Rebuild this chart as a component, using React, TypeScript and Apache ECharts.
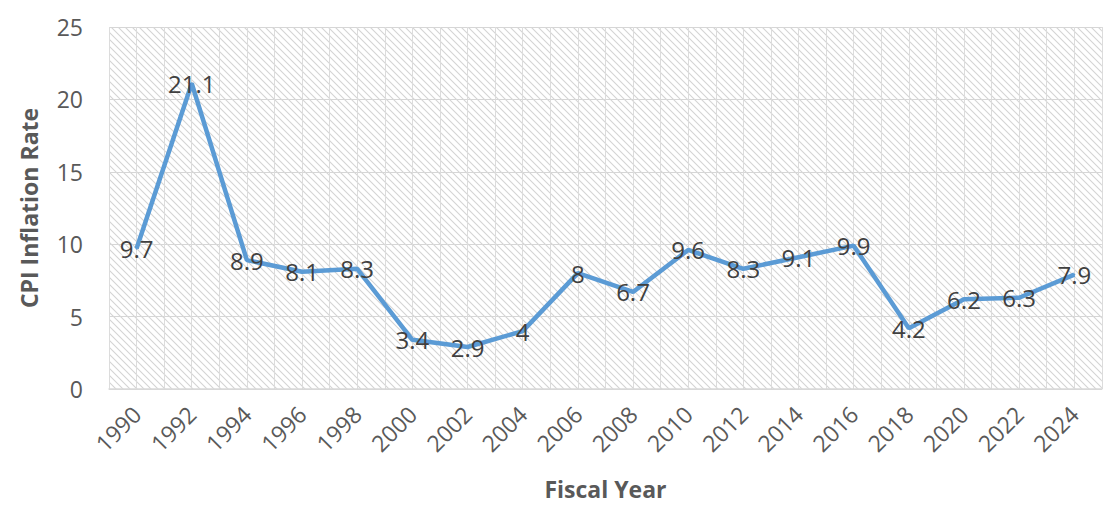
import React, { useEffect, useRef } from "react";
import * as echarts from "echarts";

const years = [1990, 1992, 1994, 1996, 1998, 2000, 2002, 2004, 2006, 2008, 2010, 2012, 2014, 2016, 2018, 2020, 2022, 2024];
const inflation = [9.7, 21.1, 8.9, 8.1, 8.3, 3.4, 2.9, 4, 8, 6.7, 9.6, 8.3, 9.1, 9.9, 4.2, 6.2, 6.3, 7.9];
const yTicks = [0, 5, 10, 15, 20, 25];

function makeHatch(): string {
  const c = document.createElement("canvas");
  const s = 7;
  c.width = s;
  c.height = s;
  const ctx = c.getContext("2d")!;
  ctx.fillStyle = "#ffffff";
  ctx.fillRect(0, 0, s, s);
  ctx.strokeStyle = "#d4d4d4";
  ctx.lineWidth = 1.1;
  ctx.beginPath();
  ctx.moveTo(-1, -1);
  ctx.lineTo(s + 1, s + 1);
  ctx.moveTo(-1, s - 1);
  ctx.lineTo(1, s + 1);
  ctx.moveTo(s - 1, -1);
  ctx.lineTo(s + 1, 1);
  ctx.stroke();
  return c.toDataURL("image/png");
}

export default function App() {
  const ref = useRef<HTMLDivElement>(null);
  useEffect(() => {
    document.body.style.margin = "0";
    const chart = echarts.init(ref.current!, undefined, { renderer: "svg" });
    const font = "'Open Sans', 'Noto Sans', sans-serif";
    chart.setOption({
      animation: false,
      textStyle: { fontFamily: font },
      grid: {
        left: 109,
        top: 27,
        width: 999,
        height: 365,
        show: true,
        borderWidth: 0,
        backgroundColor: { image: makeHatch(), repeat: "repeat" },
      },
      xAxis: {
        type: "value",
        min: 1989,
        max: 2025,
        interval: 1,
        name: "Fiscal Year",
        nameLocation: "middle",
        nameGap: 88,
        nameTextStyle: { fontSize: 23, fontWeight: "bold", color: "#595959", fontFamily: font },
        axisLine: { show: true, lineStyle: { color: "#d9d9d9", width: 1.5 } },
        axisTick: { show: false },
        splitLine: { show: true, lineStyle: { color: "#dcdcdc", width: 1 } },
        axisLabel: {
          rotate: 45,
          margin: 21,
          fontSize: 23,
          color: "#595959",
          fontFamily: font,
          hideOverlap: false,
          formatter: (v: number) => (years.includes(v) ? String(v) : ""),
        },
      },
      yAxis: {
        type: "value",
        min: yTicks[0],
        max: yTicks[yTicks.length - 1],
        interval: 5,
        name: "CPI Inflation Rate",
        nameLocation: "middle",
        nameGap: 69,
        nameTextStyle: { fontSize: 23, fontWeight: "bold", color: "#595959", fontFamily: font },
        axisLine: { show: false },
        axisTick: { show: false },
        splitLine: { show: true, lineStyle: { color: "#d6d6d6", width: 1 } },
        axisLabel: { margin: 26, fontSize: 23, color: "#595959", fontFamily: font },
      },
      series: [
        {
          type: "line",
          data: years.map((y, i) => [y, inflation[i]]),
          showSymbol: true,
          symbol: "circle",
          symbolSize: 2,
          itemStyle: { color: "#5B9BD5", borderWidth: 0 },
          lineStyle: { color: "#5B9BD5", width: 4.5 },
          label: {
            show: true,
            position: "inside",
            fontSize: 24,
            color: "#404040",
            fontFamily: font,
            formatter: (p: any) => String(p.value[1]),
          },
        },
      ],
    });
    return () => chart.dispose();
  }, []);
  return <div ref={ref} style={{ width: 1104, height: 505 }} />;
}
